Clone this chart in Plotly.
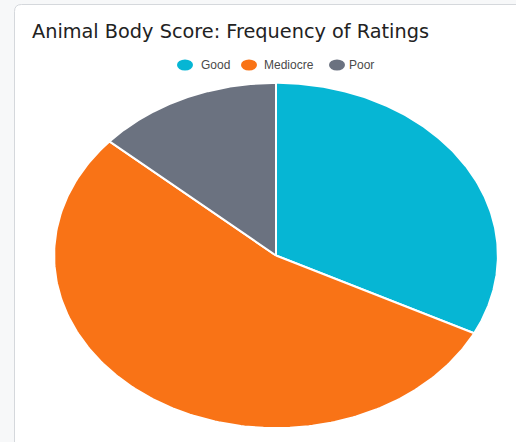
import numpy as np
import plotly.graph_objects as go

# ---- data ----
categories = ["Good", "Mediocre", "Poor"]
counts = [12, 20, 5]
colors = ["#06b6d4", "#f97316", "#6b7280"]
title_text = "Animal Body Score: Frequency of Ratings"

W, H = 516, 442

def px_x(v):
    return v / W

def px_y(v):
    return 1 - v / H

fig = go.Figure()

# pie slices drawn on unit-circle axes (axes stretch them into the ellipse)
vals = np.array(counts, dtype=float)
fracs = vals / vals.sum()
edges = np.concatenate([[0.0], np.cumsum(fracs)]) * 2 * np.pi
for name, col, a0, a1, v in zip(categories, colors, edges[:-1], edges[1:], counts):
    t = np.linspace(a0, a1, 200)
    xs = np.concatenate([[0.0], np.sin(t), [0.0]])
    ys = np.concatenate([[0.0], np.cos(t), [0.0]])
    fig.add_trace(go.Scatter(
        x=xs, y=ys, mode="lines", fill="toself", fillcolor=col,
        line=dict(color="white", width=2), name=name, showlegend=False,
        hoveron="fills", text=f"{name}: {v}", hoverinfo="text",
    ))

# ---- legend (manual, ellipse markers + text) ----
legend_y = 65
legend_items = [  # (marker center x, text start x)
    (185, 199),
    (249, 262),
    (337, 347),
]
shapes = []
annotations = []
for (cx, tx), name, col in zip(legend_items, categories, colors):
    shapes.append(dict(type="circle", xref="paper", yref="paper",
                       x0=px_x(cx - 8), x1=px_x(cx + 8),
                       y0=px_y(legend_y + 5.5), y1=px_y(legend_y - 5.5),
                       fillcolor=col, line=dict(width=0), layer="above"))
    annotations.append(dict(text=name, xref="paper", yref="paper",
                            x=px_x(tx), y=px_y(legend_y), xanchor="left",
                            yanchor="middle", showarrow=False,
                            font=dict(family="Liberation Sans, Arial", size=12,
                                      color="#4a4a4a")))

# ---- card background with rounded corner ----
x0, y0 = px_x(14.5), px_y(4.5)
rx, ry = 7 / W, 7 / H
card_path = (f"M {x0},-0.1 L {x0},{y0 - ry} Q {x0},{y0} {x0 + rx},{y0} "
             f"L 1.1,{y0} L 1.1,-0.1 Z")
shapes.insert(0, dict(type="path", xref="paper", yref="paper", path=card_path,
                      fillcolor="white", line=dict(color="#d5d8dc", width=1),
                      layer="below"))

fig.update_layout(
    width=W, height=H,
    margin=dict(l=0, r=0, t=0, b=0),
    paper_bgcolor="#f7f8f9",
    plot_bgcolor="rgba(0,0,0,0)",
    showlegend=False,
    title=dict(text=title_text, xref="paper", yref="paper",
               x=px_x(32), y=px_y(31), xanchor="left", yanchor="middle",
               font=dict(family="DejaVu Sans", size=19.3, color="#222222")),
    xaxis=dict(domain=[px_x(53), px_x(499)], range=[-1.005, 1.005],
               visible=False, fixedrange=True),
    yaxis=dict(domain=[px_y(429), px_y(82)], range=[-1.005, 1.005],
               visible=False, fixedrange=True),
    shapes=shapes,
    annotations=annotations,
)

fig.write_html(
    "out.html",
    config={"displayModeBar": False},
    post_script="document.body.style.margin='0';"
                "document.body.style.background='#f7f8f9';"
                "document.body.style.overflow='hidden';",
)
